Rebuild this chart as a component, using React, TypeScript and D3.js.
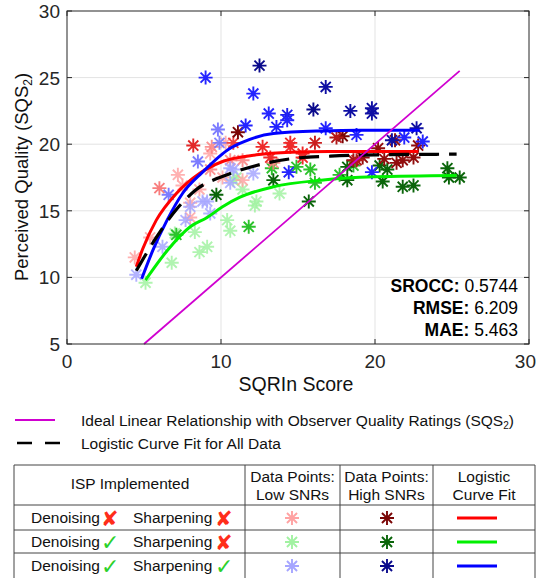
import * as d3 from 'd3';

type Pt = [number, number, number]; // x, y, snr shade (0 light .. 2 dark)

const xTicks = [0, 10, 20, 30];
const yTicks = [5, 10, 15, 20, 25, 30];

const redPoints: Pt[] = [
  [4.4, 11.5, 0], [5.4, 13.0, 0], [6.0, 16.7, 0.5], [7.2, 17.7, 0], [7.5, 16.9, 0],
  [8.0, 15.6, 0], [8.0, 14.5, 0], [8.6, 16.6, 0], [9.3, 19.3, 0], [9.4, 19.8, 0.3],
  [10.3, 20.1, 0], [9.3, 18.1, 0.3], [10.6, 18.8, 0.3], [10.1, 17.5, 0], [11.4, 17.3, 0],
  [11.4, 18.8, 0.3], [13.4, 18.6, 0.3], [8.2, 19.9, 1.1], [10.8, 20.1, 0.8], [12.7, 19.8, 1],
  [14.5, 19.8, 1], [15.3, 19.3, 1], [14.5, 20.1, 1], [13.2, 19.0, 1], [15.3, 19.0, 1],
  [16.1, 20.1, 1.3], [11.1, 20.9, 2], [17.9, 20.6, 2], [18.6, 18.8, 1.7], [19.2, 19.0, 1.8],
  [20.2, 19.7, 1.8], [21.3, 20.3, 1.8], [21.4, 18.6, 1.8], [22.5, 19.0, 1.8], [22.8, 19.9, 1.8],
  [20.6, 18.9, 1.8], [21.8, 18.8, 1.8], [17.5, 20.5, 1.5], [18.8, 18.8, 1.5],
];

const bluePoints: Pt[] = [
  [4.5, 10.2, 0], [6.2, 12.3, 0], [7.7, 14.3, 0], [9.3, 14.8, 0], [9.1, 15.7, 0],
  [8.0, 15.3, 0], [8.8, 15.7, 0], [10.6, 18.2, 0], [10.6, 17.1, 0], [12.1, 17.8, 0],
  [10.8, 18.1, 0], [9.9, 20.1, 0.4], [6.6, 16.2, 0.5], [8.5, 18.7, 0.5], [9.8, 21.1, 0.5],
  [9.0, 25.0, 1], [12.1, 23.8, 1], [11.6, 21.4, 1], [13.1, 22.3, 1], [14.3, 22.2, 1.2],
  [14.3, 21.8, 1], [13.6, 21.3, 1], [16.8, 21.2, 1], [14.4, 17.9, 1], [19.8, 17.9, 1],
  [18.8, 20.7, 1], [23.1, 20.2, 1], [21.9, 20.5, 1], [12.5, 25.9, 2], [16.0, 22.6, 2],
  [16.8, 24.3, 1.8], [18.4, 22.5, 1.8], [19.8, 22.7, 1.8], [19.8, 22.3, 1.8], [22.7, 21.2, 1.8],
  [21.1, 20.3, 1.8],
];

const greenPoints: Pt[] = [
  [5.1, 9.6, 0], [6.8, 11.1, 0], [8.6, 11.9, 0], [8.3, 13.4, 0], [7.0, 13.3, 0],
  [10.4, 14.3, 0], [10.6, 13.5, 0], [9.1, 12.3, 0], [12.2, 15.4, 0], [10.8, 17.3, 0],
  [11.4, 16.6, 0], [12.3, 15.7, 0], [13.8, 16.3, 0], [11.0, 17.5, 0], [7.1, 13.2, 1],
  [11.8, 13.8, 1], [13.3, 18.2, 1], [14.9, 18.3, 1], [15.8, 18.1, 1], [16.1, 17.1, 1],
  [17.7, 17.7, 1], [18.6, 18.4, 1], [9.7, 16.2, 2], [13.4, 17.3, 2], [15.7, 15.7, 2],
  [18.2, 18.3, 2], [18.2, 17.3, 2], [20.5, 17.2, 2], [20.8, 18.1, 2], [21.8, 16.8, 2],
  [22.5, 16.9, 2], [24.7, 18.2, 2], [24.8, 17.5, 2], [25.5, 17.5, 2], [20.3, 18.4, 2],
];

const redFit: [number, number][] = [
  [4.5, 10.8], [4.9, 12.1], [5.8, 14.3], [7.1, 16.3], [8.6, 17.8], [10.1, 18.7],
  [12.3, 19.2], [14.5, 19.4], [17, 19.45], [20, 19.45], [22.8, 19.45],
];
const blueFit: [number, number][] = [
  [4.85, 9.9], [5.6, 12.1], [6.5, 14.3], [7.5, 16.3], [8.8, 17.9], [10.6, 19.7],
  [11.5, 20.2], [13.4, 20.8], [16.6, 21.0], [19, 21.05], [22.9, 21.05],
];
const greenFit: [number, number][] = [
  [5.1, 9.8], [6.5, 12.0], [8.0, 13.8], [9.1, 14.5], [10.1, 15.3], [11.2, 16.0],
  [13.4, 16.8], [16.5, 17.3], [20, 17.55], [25.3, 17.65],
];
const allFit: [number, number][] = [
  [4.5, 10.5], [5.8, 13.0], [7.1, 15.1], [8.4, 16.6], [10.4, 17.7], [12.3, 18.4],
  [14.5, 18.9], [17.1, 19.1], [20, 19.2], [25.3, 19.25],
];
const idealLine: [number, number][] = [[5, 5], [25.5, 25.5]];

const statLabels = ['SROCC:', 'RMSE:', 'MAE:'];
const statValues = ['0.5744', '6.209', '5.463'];

const ispRows = [
  { den: false, sharp: false },
  { den: true, sharp: false },
  { den: true, sharp: true },
];

const shades = {
  red: ['#ffa3a3', '#ee2a2a', '#7a0606'],
  green: ['#a2f2a2', '#2cc22c', '#0a650a'],
  blue: ['#a6a6ff', '#2424ff', '#0a0a8c'],
};
const fitColors = { red: '#ff0000', green: '#00f000', blue: '#0000ff' };
const groups: { key: 'red' | 'green' | 'blue'; pts: Pt[]; fit: [number, number][] }[] = [
  { key: 'green', pts: greenPoints, fit: greenFit },
  { key: 'red', pts: redPoints, fit: redFit },
  { key: 'blue', pts: bluePoints, fit: blueFit },
];

function star(cx: number, cy: number, r: number) {
  const d = r * 0.72;
  return `M${cx - r},${cy}H${cx + r}M${cx},${cy - r}V${cy + r}` +
    `M${cx - d},${cy - d}L${cx + d},${cy + d}M${cx - d},${cy + d}L${cx + d},${cy - d}`;
}

const FONT = 'Liberation Sans, Arial, Helvetica, sans-serif';

export default function App() {
  const x = d3.scaleLinear().domain([0, 30]).range([67, 529]);
  const y = d3.scaleLinear().domain([5, 30]).range([344, 11]);
  const line = d3.line<[number, number]>().x((d) => x(d[0])).y((d) => y(d[1])).curve(d3.curveMonotoneX);

  const tableTop = 465;
  const cols = [14, 245, 340, 433, 535];
  const rowLines = [505, 530, 553];
  const rowY = [518, 542, 566];

  const mark = (ok: boolean, px: number, py: number) => (
    <text x={px} y={py} fontFamily="DejaVu Sans, sans-serif" fontSize={ok ? 22 : 21}
      fontWeight="bold" fill={ok ? '#2bd12b' : '#ff2d1a'}>{ok ? '✓' : '✘'}</text>
  );

  return (
    <svg width={537} height={578} style={{ position: 'absolute', left: 0, top: 0, background: '#fff' }}
      fontFamily={FONT}>
      <rect x={0} y={0} width={537} height={578} fill="#fff" />
      {/* grid */}
      {xTicks.slice(1, -1).map((t) => (
        <line key={'gx' + t} x1={x(t)} x2={x(t)} y1={y(30)} y2={y(5)} stroke="#e3e3e3" />
      ))}
      {yTicks.slice(1, -1).map((t) => (
        <line key={'gy' + t} x1={x(0)} x2={x(30)} y1={y(t)} y2={y(t)} stroke="#e3e3e3" />
      ))}
      {/* points */}
      {groups.map((g) =>
        g.pts.map((p, i) => {
          const c = d3.scaleLinear<string>().domain([0, 1, 2]).range(shades[g.key]).interpolate(d3.interpolateRgb);
          return (
            <path key={g.key + i} d={star(x(p[0]), y(p[1]), 7)} stroke={c(p[2])} strokeWidth={1.9}
              fill="none" strokeOpacity={p[2] < 0.6 ? 0.85 : 1} />
          );
        })
      )}
      {/* fits */}
      {groups.map((g) => (
        <path key={'fit' + g.key} d={line(g.fit) ?? ''} fill="none" stroke={fitColors[g.key]} strokeWidth={3} />
      ))}
      <path d={line(allFit) ?? ''} fill="none" stroke="#000" strokeWidth={3.2} strokeDasharray="20,10" />
      <path d={line(idealLine) ?? ''} fill="none" stroke="#d000d0" strokeWidth={1.8} />
      {/* box and ticks */}
      <rect x={x(0)} y={y(30)} width={x(30) - x(0)} height={y(5) - y(30)} fill="none" stroke="#262626" />
      {xTicks.map((t, i) => (
        <g key={'tx' + t}>
          <line x1={x(t)} x2={x(t)} y1={y(5)} y2={y(5) - 5} stroke="#262626" />
          <line x1={x(t)} x2={x(t)} y1={y(30)} y2={y(30) + 5} stroke="#262626" />
          <text x={i === xTicks.length - 1 ? 536 : x(t)} y={368}
            textAnchor={i === xTicks.length - 1 ? 'end' : 'middle'} fontSize={19} fill="#262626">{t}</text>
        </g>
      ))}
      {yTicks.map((t) => (
        <g key={'ty' + t}>
          <line x1={x(0)} x2={x(0) + 5} y1={y(t)} y2={y(t)} stroke="#262626" />
          <line x1={x(30)} x2={x(30) - 5} y1={y(t)} y2={y(t)} stroke="#262626" />
          <text x={60} y={y(t) + 7} textAnchor="end" fontSize={19} fill="#262626">{t}</text>
        </g>
      ))}
      <text x={296} y={391} textAnchor="middle" fontSize={19.5} fill="#111">SQRIn Score</text>
      <text transform="translate(28,177) rotate(-90)" textAnchor="middle" fontSize={18.5} fill="#111">
        Perceived Quality (SQS<tspan fontSize={12} dy={4}>2</tspan><tspan dy={-4}>)</tspan>
      </text>
      {/* stats */}
      {statLabels.map((s, i) => (
        <text key={s} x={518} y={292 + i * 22} textAnchor="end" fontSize={17.5} fill="#000">
          <tspan fontWeight="bold">{s}</tspan> {statValues[i]}
        </text>
      ))}
      {/* legend */}
      <line x1={15} x2={55} y1={420} y2={420} stroke="#d000d0" strokeWidth={2} />
      <text x={81} y={426} fontSize={15.5} fill="#111">
        Ideal Linear Relationship with Observer Quality Ratings (SQS<tspan fontSize={10} dy={3}>2</tspan><tspan dy={-3}>)</tspan>
      </text>
      <line x1={17} x2={60} y1={443} y2={443} stroke="#000" strokeWidth={2.5} strokeDasharray="15,13" />
      <text x={81} y={449} fontSize={15.5} fill="#111">Logistic Curve Fit for All Data</text>
      {/* table */}
      <g stroke="#444" strokeWidth={1}>
        <line x1={cols[0]} x2={cols[4]} y1={tableTop} y2={tableTop} />
        {rowLines.map((r) => <line key={'r' + r} x1={cols[0]} x2={cols[4]} y1={r} y2={r} />)}
        {cols.map((c) => <line key={'c' + c} x1={c} x2={c} y1={tableTop} y2={578} />)}
      </g>
      <text x={130} y={489} textAnchor="middle" fontSize={15.5} fill="#111">ISP Implemented</text>
      {[['Data Points:', 'Low SNRs'], ['Data Points:', 'High SNRs'], ['Logistic', 'Curve Fit']].map((h, i) => (
        <text key={'h' + i} x={(cols[i + 1] + cols[i + 2]) / 2} textAnchor="middle" fontSize={15.5} fill="#111">
          <tspan x={(cols[i + 1] + cols[i + 2]) / 2} y={482}>{h[0]}</tspan>
          <tspan x={(cols[i + 1] + cols[i + 2]) / 2} y={500}>{h[1]}</tspan>
        </text>
      ))}
      {ispRows.map((r, i) => {
        const g = groups.find((gg) => gg.key === ['red', 'green', 'blue'][i])!;
        return (
          <g key={'row' + i}>
            <text x={31} y={rowY[i] + 5} fontSize={15.5} fill="#111">Denoising</text>
            {mark(r.den, 101, rowY[i] + 8)}
            <text x={133} y={rowY[i] + 5} fontSize={15.5} fill="#111">Sharpening</text>
            {mark(r.sharp, 215, rowY[i] + 8)}
            <path d={star(292, rowY[i], 7)} stroke={shades[g.key][0]} strokeWidth={1.9} fill="none" />
            <path d={star(387, rowY[i], 7)} stroke={shades[g.key][2]} strokeWidth={1.9} fill="none" />
            <line x1={457} x2={497} y1={rowY[i]} y2={rowY[i]} stroke={fitColors[g.key]} strokeWidth={3} />
          </g>
        );
      })}
    </svg>
  );
}
